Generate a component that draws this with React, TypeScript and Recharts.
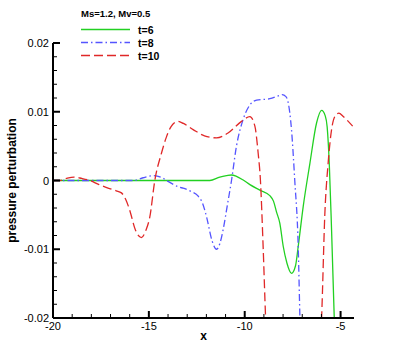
import React from "react";
import { LineChart, Line, XAxis, YAxis } from "recharts";

// t=6 (green, solid)
const T6_X = [-20, -16, -12.5, -11.82, -11.3, -10.95, -10.69, -10.43, -10.1, -9.73, -9.21, -8.69, -8.5, -8.34, -8.17, -7.99, -7.8, -7.56, -7.35, -7.21, -6.95, -6.6, -6.25, -5.99, -5.8, -5.7, -5.59, -5.47, -5.33, -5.2, -4.4];
const T6_Y = [0, 0, 0, 0, 0.0005, 0.0007, 0.0008, 0.0006, 0.0001, -0.0006, -0.0014, -0.0022, -0.003, -0.0046, -0.0062, -0.0096, -0.012, -0.0135, -0.0124, -0.0096, -0.0038, 0.0025, 0.0084, 0.0102, 0.0094, 0.0078, 0.0025, -0.0072, -0.02, -0.03, -0.045];

// t=8 (blue, dash-dot)
const T8_X = [-20, -16.5, -15.8, -15.3, -14.78, -14.3, -14.08, -13.7, -13.39, -13.21, -12.8, -12.45, -12.2, -11.99, -11.7, -11.47, -11.3, -11.13, -10.9, -10.69, -10.43, -10.08, -9.73, -9.38, -8.69, -8.17, -8.05, -7.85, -7.73, -7.56, -7.39, -7.21, -7.12, -7.0, -6.5];
const T8_Y = [0, 0, 0, 0.0004, 0.0007, 0.0004, 0, -0.0006, -0.001, -0.0011, -0.0016, -0.0022, -0.0033, -0.0053, -0.0088, -0.01, -0.0092, -0.0072, -0.0035, 0, 0.005, 0.0089, 0.011, 0.0117, 0.0119, 0.0124, 0.0125, 0.0122, 0.0113, 0.0074, 0, -0.0096, -0.02, -0.03, -0.05];

// t=10 (red, dashed)
const T10_X = [-20, -19.65, -19.3, -18.9, -18.5, -18.08, -17.6, -17.13, -16.7, -16.43, -16.2, -16.0, -15.7, -15.39, -15.15, -14.95, -14.69, -14.34, -14.1, -13.85, -13.48, -13.2, -12.69, -12.1, -11.47, -10.87, -10.17, -9.73, -9.47, -9.3, -9.18, -9.04, -8.91, -8.7, -7.5, -6.2, -5.99, -5.82, -5.65, -5.47, -5.3, -5.09, -4.86, -4.37];
const T10_Y = [0, 0, 0.0003, 0.0005, 0.0003, 0, -0.0006, -0.0011, -0.0015, -0.0018, -0.0028, -0.0043, -0.0072, -0.0083, -0.0072, -0.0053, 0, 0.004, 0.0062, 0.0078, 0.0086, 0.0083, 0.0074, 0.0065, 0.0062, 0.0069, 0.0086, 0.0093, 0.0079, 0.004, 0, -0.0096, -0.02, -0.03, -0.045, -0.03, -0.02, -0.0048, 0.0025, 0.0074, 0.0093, 0.0098, 0.0093, 0.0079];

const X_TICKS = [-20, -19, -18, -17, -16, -15, -14, -13, -12, -11, -10, -9, -8, -7, -6, -5];
const X_MAJOR = [-20, -15, -10, -5];
const Y_TICKS = [-0.02, -0.018, -0.016, -0.014, -0.012, -0.01, -0.008, -0.006, -0.004, -0.002, 0, 0.002, 0.004, 0.006, 0.008, 0.01, 0.012, 0.014, 0.016, 0.018, 0.02];
const Y_MAJOR = [-0.02, -0.01, 0, 0.01, 0.02];

const SERIES = [
  { name: "t=6", xs: T6_X, ys: T6_Y, color: "#22d022", dash: undefined },
  { name: "t=8", xs: T8_X, ys: T8_Y, color: "#5555ff", dash: "7 3 1.5 3" },
  { name: "t=10", xs: T10_X, ys: T10_Y, color: "#e02828", dash: "9 4" },
];

const FONT = "'Liberation Sans', Arial, sans-serif";

const isMajor = (v: number, list: number[]) => list.some((m) => Math.abs(m - v) < 1e-9);

const XTick = (props: any) => {
  const { x, y, payload } = props;
  const major = isMajor(payload.value, X_MAJOR);
  return (
    <g>
      <line x1={x} x2={x} y1={y} y2={y - (major ? 7 : 4)} stroke="#000" strokeWidth={major ? 2 : 1} />
      {major && (
        <text x={x} y={y + 12} textAnchor="middle" fontSize={11} fontFamily={FONT} fill="#000">
          {payload.value}
        </text>
      )}
    </g>
  );
};

const YTick = (props: any) => {
  const { x, y, payload } = props;
  const major = isMajor(payload.value, Y_MAJOR);
  return (
    <g>
      <line x1={x} x2={x + (major ? 7 : 4)} y1={y} y2={y} stroke="#000" strokeWidth={major ? 2 : 1} />
      {major && (
        <text x={x - 4} y={y + 4} textAnchor="end" fontSize={11} fontFamily={FONT} fill="#000">
          {payload.value}
        </text>
      )}
    </g>
  );
};

export default function App() {
  return (
    <div style={{ position: "absolute", left: 0, top: 0, width: 403, height: 358, background: "#fff" }}>
      <LineChart width={403} height={358} margin={{ top: 43, right: 49, bottom: 0, left: 0 }}>
        <XAxis
          type="number"
          dataKey="x"
          domain={[-20, -4.3]}
          ticks={X_TICKS}
          interval={0}
          tickSize={0}
          tickMargin={0}
          tickLine={false}
          tick={<XTick />}
          height={40}
          axisLine={{ stroke: "#000", strokeWidth: 2 }}
          allowDataOverflow
          label={{ value: "x", position: "insideTop", offset: 13, fontSize: 12, fontWeight: "bold", fontFamily: FONT, fill: "#000" }}
        />
        <YAxis
          type="number"
          dataKey="y"
          domain={[-0.02, 0.02]}
          ticks={Y_TICKS}
          interval={0}
          tickSize={0}
          tickMargin={0}
          tickLine={false}
          tick={<YTick />}
          width={53}
          axisLine={{ stroke: "#000", strokeWidth: 2 }}
          allowDataOverflow
          label={{
            value: "pressure perturbation",
            angle: -90,
            position: "insideLeft",
            offset: 12,
            fontSize: 12,
            fontWeight: "bold",
            fontFamily: FONT,
            fill: "#000",
            style: { textAnchor: "middle" },
          }}
        />
        {SERIES.map((s) => (
          <Line
            key={s.name}
            data={s.xs.map((x, i) => ({ x, y: s.ys[i] }))}
            dataKey="y"
            name={s.name}
            type="monotone"
            stroke={s.color}
            strokeWidth={1.3}
            strokeDasharray={s.dash}
            dot={false}
            activeDot={false}
            isAnimationActive={false}
          />
        ))}
      </LineChart>
      <svg width={220} height={64} style={{ position: "absolute", left: 0, top: 0, pointerEvents: "none" }}>
        <text x={81} y={17} fontSize={9.5} fontWeight="bold" fontFamily={FONT} fill="#000">
          Ms=1.2, Mv=0.5
        </text>
        {SERIES.map((s, i) => (
          <g key={s.name}>
            <line x1={81} x2={130} y1={29.5 + i * 13} y2={29.5 + i * 13} stroke={s.color} strokeWidth={1.3} strokeDasharray={s.dash} />
            <text x={138} y={33.5 + i * 13} fontSize={10.5} fontWeight="bold" fontFamily={FONT} fill="#000">
              {s.name}
            </text>
          </g>
        ))}
      </svg>
    </div>
  );
}
